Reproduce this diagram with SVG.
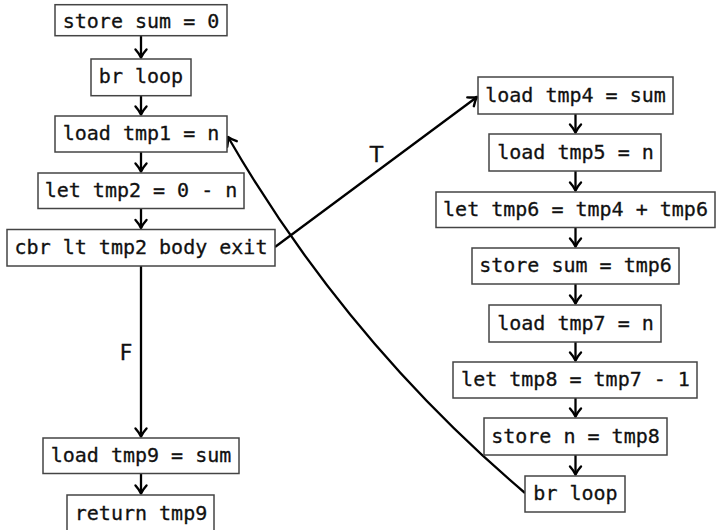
<svg xmlns="http://www.w3.org/2000/svg" width="716" height="530" viewBox="0 0 716 530">
<defs>
<marker id="ah" markerUnits="userSpaceOnUse" markerWidth="20" markerHeight="20" refX="0" refY="0" orient="auto" overflow="visible">
<path d="M -8,-5.5 Q -3.5,-1.5 0,0 Q -3.5,1.5 -8,5.5" fill="none" stroke="#000" stroke-width="2.4" stroke-linecap="round" stroke-linejoin="round"/>
</marker>
</defs>
<style>
.box{fill:#fff;stroke:#444;stroke-width:1.5}
.t{font-family:"DejaVu Sans Mono",monospace;font-size:20px;fill:#111;stroke:#111;stroke-width:0.3;text-anchor:middle}
.lbl{font-family:"DejaVu Sans",sans-serif;font-size:22px;fill:#111;stroke:#111;stroke-width:0.3;text-anchor:middle}
.e{fill:none;stroke:#000;stroke-width:2.3;marker-end:url(#ah)}
</style>
<rect width="716" height="530" fill="#fff"/>
<g id="connectors">
<path class="e" d="M141,35.7 L141,57.5"/>
<path class="e" d="M141,95.7 L141,114.5"/>
<path class="e" d="M141,152 L141,171.5"/>
<path class="e" d="M141,208.5 L141,228"/>
<path class="e" d="M141,266 L141,436.5"/>
<path class="e" d="M141,473.5 L141,493.5"/>
<path class="e" d="M275,247 L477,97"/>
<path class="e" d="M575.5,114 L575.5,132.5"/>
<path class="e" d="M575.5,171 L575.5,190.5"/>
<path class="e" d="M575.5,227.5 L575.5,246.5"/>
<path class="e" d="M575.5,284 L575.5,303.5"/>
<path class="e" d="M575.5,342 L575.5,360.5"/>
<path class="e" d="M575.5,398 L575.5,416.5"/>
<path class="e" d="M575.5,455 L575.5,474.5"/>
<path class="e" d="M525,493 Q346,341 228,137"/>
<text class="lbl" x="376.5" y="161.7">T</text>
<text class="lbl" x="126" y="360">F</text>
</g>
<g id="n1"><rect class="box" x="55" y="4.7" width="172" height="31"/><text class="t" x="141" y="27.7">store sum = 0</text></g>
<g id="n2"><rect class="box" x="91" y="59" width="100" height="36.7"/><text class="t" x="141" y="83.3">br loop</text></g>
<g id="n3"><rect class="box" x="55" y="116" width="172" height="36"/><text class="t" x="141" y="140.3">load tmp1 = n</text></g>
<g id="n4"><rect class="box" x="38" y="173" width="206" height="35.5"/><text class="t" x="141" y="197">let tmp2 = 0 - n</text></g>
<g id="n5"><rect class="box" x="7" y="229.5" width="268" height="36.5"/><text class="t" x="141" y="254">cbr lt tmp2 body exit</text></g>
<g id="n6"><rect class="box" x="43" y="438" width="196" height="35.5"/><text class="t" x="141" y="462">load tmp9 = sum</text></g>
<g id="n7"><rect class="box" x="67" y="495" width="147" height="36.5"/><text class="t" x="141" y="519.5">return tmp9</text></g>
<g id="r1"><rect class="box" x="478" y="77" width="195" height="37"/><text class="t" x="575.5" y="101.7">load tmp4 = sum</text></g>
<g id="r2"><rect class="box" x="489" y="134" width="172" height="37"/><text class="t" x="575.5" y="158.7">load tmp5 = n</text></g>
<g id="r3"><rect class="box" x="436" y="192" width="279" height="35.5"/><text class="t" x="575.5" y="216">let tmp6 = tmp4 + tmp6</text></g>
<g id="r4"><rect class="box" x="472" y="248" width="207" height="36"/><text class="t" x="575.5" y="272.3">store sum = tmp6</text></g>
<g id="r5"><rect class="box" x="489" y="305" width="172" height="37"/><text class="t" x="575.5" y="329.7">load tmp7 = n</text></g>
<g id="r6"><rect class="box" x="453" y="362" width="244" height="36"/><text class="t" x="575.5" y="386.3">let tmp8 = tmp7 - 1</text></g>
<g id="r7"><rect class="box" x="484" y="418" width="183" height="37"/><text class="t" x="575.5" y="442.7">store n = tmp8</text></g>
<g id="r8"><rect class="box" x="525" y="476" width="100" height="36"/><text class="t" x="575.5" y="500.3">br loop</text></g>
</svg>
